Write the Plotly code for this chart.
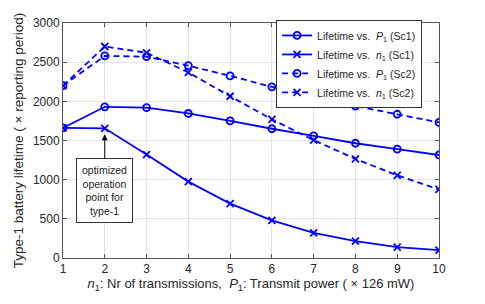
import plotly.graph_objects as go

x_vals = [1, 2, 3, 4, 5, 6, 7, 8, 9, 10]
p1_sc1 = [1660, 1930, 1920, 1845, 1750, 1650, 1560, 1465, 1390, 1315]
n1_sc1 = [1660, 1655, 1320, 975, 695, 480, 320, 215, 140, 100]
p1_sc2 = [2200, 2580, 2570, 2455, 2325, 2185, 2060, 1940, 1835, 1730]
n1_sc2 = [2200, 2700, 2620, 2370, 2065, 1770, 1505, 1265, 1055, 875]

names = ["Lifetime vs.  <i>P</i><sub>1</sub> (Sc1)",
         "Lifetime vs.  <i>n</i><sub>1</sub> (Sc1)",
         "Lifetime vs.  <i>P</i><sub>1</sub> (Sc2)",
         "Lifetime vs.  <i>n</i><sub>1</sub> (Sc2)"]

blue = "#0000FF"
fig = go.Figure()
series = [(p1_sc1, "solid", "circle-open"),
          (n1_sc1, "solid", "x-thin-open"),
          (p1_sc2, "6px,4px", "circle-open"),
          (n1_sc2, "6px,4px", "x-thin-open")]
for (ys, dash, sym), nm in zip(series, names):
    fig.add_trace(go.Scatter(
        x=x_vals, y=ys, mode="lines+markers", name=nm,
        line=dict(color=blue, width=1.8, dash=dash),
        marker=dict(symbol=sym, size=7, color=blue, line=dict(color=blue, width=1.8)),
    ))

fig.add_annotation(
    x=2, y=1580, ax=2, ay=860, axref="x", ayref="y", xref="x", yref="y",
    text="optimized<br>operation<br>point for<br>type-1",
    showarrow=True, arrowhead=2, arrowsize=1.2, arrowwidth=1, arrowcolor="black",
    bordercolor="#333333", borderwidth=1, borderpad=5, bgcolor="white",
    font=dict(family="Liberation Sans, Arial", size=10.5, color="#222222"),
)

axis_common = dict(
    showgrid=True, gridcolor="#e3e3e3", gridwidth=1,
    showline=True, linecolor="#555555", linewidth=1, mirror="ticks",
    ticks="inside", ticklen=4, tickcolor="#555555",
    tickfont=dict(family="Liberation Sans, Arial", size=12, color="#262626"),
    zeroline=False, automargin=False,
)

fig.update_layout(
    width=485, height=304,
    margin=dict(l=55, r=54, t=15, b=54),
    paper_bgcolor="white", plot_bgcolor="white",
    font=dict(family="Liberation Sans, Arial", color="#262626"),
    xaxis=dict(range=[1, 10], tickvals=x_vals,
               title=dict(text="<i>n</i><sub>1</sub>: Nr of transmissions,  <i>P</i><sub>1</sub>: Transmit power ( × 126 mW)",
                          font=dict(size=13), standoff=3),
               **axis_common),
    yaxis=dict(range=[0, 3000], tickvals=[0, 500, 1000, 1500, 2000, 2500, 3000],
               title=dict(text="Type-1 battery lifetime ( × reporting period)",
                          font=dict(size=13.5), standoff=6),
               **axis_common),
    legend=dict(x=0.955, y=1.013, xanchor="right", yanchor="top",
                bgcolor="white", bordercolor="#333333", borderwidth=1,
                font=dict(size=10.5, color="#262626"), tracegroupgap=0,
                itemwidth=30),
    showlegend=True,
)

fig.write_html("out.html")
